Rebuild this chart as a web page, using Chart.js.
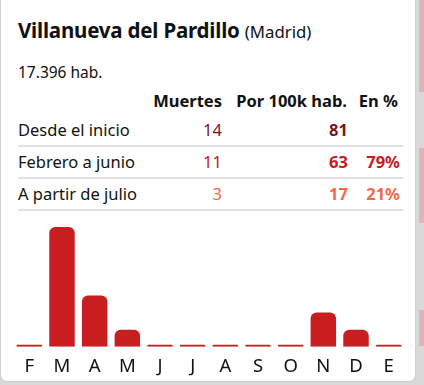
<!DOCTYPE html>
<html><head><meta charset="utf-8">
<script src="https://cdn.jsdelivr.net/npm/chart.js@4.4.1/dist/chart.umd.min.js"></script>
<style>
html,body{margin:0;padding:0;}
body{width:424px;height:385px;background:#d9d9d9;position:relative;overflow:hidden;font-family:"Noto Sans",sans-serif;color:#111;}
.strip{position:absolute;left:419px;width:5px;background:#e2b3b7;}
#card{position:absolute;left:0;top:-10px;width:416px;height:392px;background:#fff;border:1px solid #cfcfcf;border-radius:7px;box-sizing:border-box;}
#title{position:absolute;left:18px;top:16px;font-size:20.5px;font-weight:700;white-space:nowrap;letter-spacing:-0.2px;}
#title span{font-weight:400;font-size:16.8px;letter-spacing:0;}
#pop{position:absolute;left:18px;top:61px;font-size:15.5px;}
.row{position:absolute;left:18px;width:385px;height:30px;}
.row div{position:absolute;top:0;line-height:30px;white-space:nowrap;}
.hdr div{font-weight:700;font-size:16.5px;}
.data{border-bottom:2px solid #e2e2e2;font-size:16.5px;}
.c0{left:0;}
.c1{right:181px;text-align:right;}
.c2{right:55px;text-align:right;font-weight:700;}
.c3{right:3px;text-align:right;font-weight:700;}
.h2{right:56px;text-align:right;}
.h3{right:5px;text-align:right;}
#cw{position:absolute;left:0;top:215px;width:416px;height:164px;}
</style></head>
<body>
<div class="strip" style="top:0;height:92px"></div>
<div class="strip" style="top:148px;height:75px"></div>
<div class="strip" style="top:310px;height:36px"></div>
<div id="card"></div>
<div id="title">Villanueva del Pardillo <span>(Madrid)</span></div>
<div id="pop">17.396 hab.</div>
<div id="table"></div>
<div id="cw"><canvas id="c"></canvas></div>
<script>
const months = ['F','M','A','M','J','J','A','S','O','N','D','E'];
const deaths = [0,7,3,1,0,0,0,0,0,2,1,0];
const headers = ['Muertes','Por 100k hab.','En %'];
const rowLabels = ['Desde el inicio','Febrero a junio','A partir de julio'];
const rowDeaths = [14,11,3];
const rowPer100k = [81,63,17];
const rowPct = ['','79%','21%'];
const rowColors = ['#7a1422','#c71b21','#f26a4b'];

const tbl = document.getElementById('table');
let h = document.createElement('div');
h.className='row hdr'; h.style.top='86px';
h.innerHTML = `<div class="c1">${headers[0]}</div><div class="h2">${headers[1]}</div><div class="h3">${headers[2]}</div>`;
tbl.appendChild(h);
rowLabels.forEach((l,i)=>{
  const r=document.createElement('div');
  r.className='row data'; r.style.top=(115+i*32)+'px';
  r.innerHTML=`<div class="c0">${l}</div><div class="c1" style="color:${rowColors[i]}">${rowDeaths[i]}</div><div class="c2" style="color:${rowColors[i]}">${rowPer100k[i]}</div><div class="c3" style="color:${rowColors[i]}">${rowPct[i]}</div>`;
  tbl.appendChild(r);
});

new Chart(document.getElementById('c'),{
  type:'bar',
  data:{labels:months,datasets:[{data:deaths,backgroundColor:'#c81e1f',barPercentage:0.78,categoryPercentage:1,minBarLength:2,borderRadius:{topLeft:6,topRight:6,bottomLeft:0,bottomRight:0},borderSkipped:'bottom'}]},
  options:{
    responsive:true,maintainAspectRatio:false,animation:false,
    layout:{padding:{left:13,right:11,top:12,bottom:0}},
    plugins:{legend:{display:false},tooltip:{enabled:false}},
    scales:{
      y:{display:false,min:0,max:7},
      x:{grid:{display:false},border:{display:false},ticks:{color:'#111',font:{family:'"Noto Sans",sans-serif',size:18.5},padding:1,maxRotation:0,autoSkip:false}}
    }
  }
});
</script>
</body></html>
